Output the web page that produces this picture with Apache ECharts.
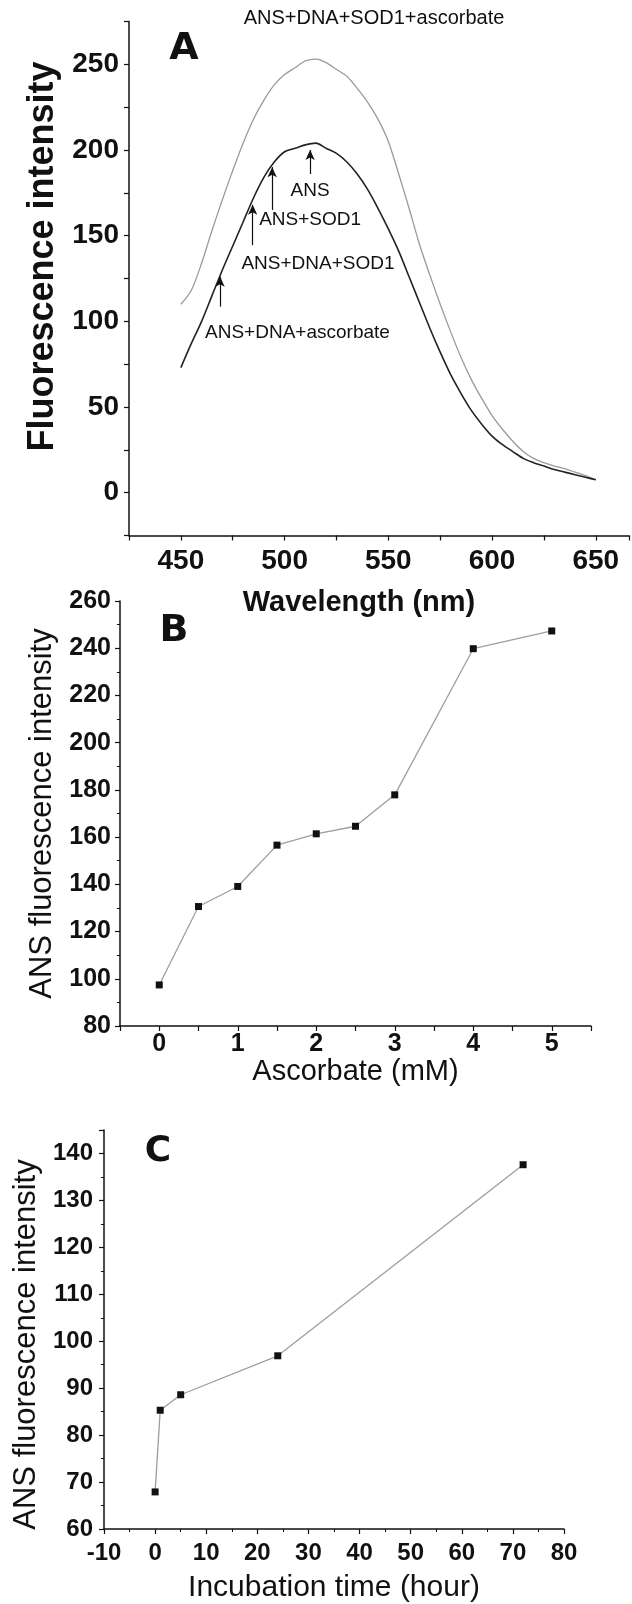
<!DOCTYPE html>
<html>
<head>
<meta charset="utf-8">
<script src="https://cdn.jsdelivr.net/npm/echarts@6/dist/echarts.min.js"></script>
<style>
  html, body { margin: 0; padding: 0; background: #fff; }
  #main { width: 632px; height: 1604px; }
</style>
</head>
<body>
<div id="main"></div>
<script>
// panel A: emission spectra (every 5 nm)
var wavelengths = [450, 455, 460, 465, 470, 475, 480, 485, 490, 495, 500, 505, 510, 515, 520, 525, 530, 535, 540, 545,
    550, 555, 560, 565, 570, 575, 580, 585, 590, 595, 600, 605, 610, 615, 620, 625, 630, 635, 640, 645, 650]
var withAscorbate = [110, 118, 134, 153, 171, 188, 204, 218, 229, 238, 244, 248, 252, 253, 251, 247, 243, 236, 228, 218,
    205, 186, 166, 145, 127, 110, 94, 79, 66, 55, 45, 37, 30, 24, 20, 17.5, 15.5, 14, 12, 10, 7.5]
var controls = [73, 87, 100, 115, 130, 144, 158, 172, 184, 193, 199, 201, 203, 204, 201, 198, 193, 186, 177, 166,
    154, 141, 126, 111, 96, 82, 69, 58, 48, 40, 33, 28, 24, 20, 17.5, 15.5, 13.5, 12, 10.5, 9, 7.5]

// arrows + labels on panel A (data coordinates)
var arrowNames = ['ANS', 'ANS+SOD1', 'ANS+DNA+SOD1', 'ANS+DNA+ascorbate']
var arrowX = [512.3, 494, 484.6, 468.9]
var arrowFrom = [186, 165, 144.5, 108.6]
var arrowTo = [200, 190, 168, 126]
var nameX = [512.3, 512.3, 516.1, 506.2]
var nameY = [176, 159.3, 133.7, 93.1]
var topName = 'ANS+DNA+SOD1+ascorbate'

// panel B
var ascorbate = [0, 0.5, 1, 1.5, 2, 2.5, 3, 4, 5]
var ascorbateIntensity = [97.4, 130.6, 139.1, 156.6, 161.4, 164.6, 177.9, 239.8, 247.3]

// panel C
var hours = [0, 1, 5, 24, 72]
var hoursIntensity = [67.9, 85.3, 88.6, 96.9, 137.6]

var font = 'Liberation Sans, Arial, sans-serif'

function zip(xs, ys) {
    var out = []
    for (var i = 0; i < xs.length; i++) out.push([xs[i], ys[i]])
    return out
}

function baseAxis(extra) {
    var ax = {
        type: 'value',
        nameLocation: 'middle',
        axisLine: { show: true, onZero: false, lineStyle: { color: '#111', width: 1.5 } },
        axisTick: { show: true, inside: false, length: 5, lineStyle: { color: '#111', width: 1.2 } },
        minorTick: { show: true, splitNumber: 2, length: 3, lineStyle: { color: '#111', width: 1 } },
        splitLine: { show: false },
        axisLabel: { color: '#111', fontFamily: font, fontWeight: 'bold' },
        nameTextStyle: { color: '#111', fontFamily: font }
    }
    for (var k in extra) ax[k] = extra[k]
    return ax
}

var arrowLines = []
var arrowText = []
for (var i = 0; i < arrowNames.length; i++) {
    arrowLines.push([{ coord: [arrowX[i], arrowFrom[i]] }, { coord: [arrowX[i], arrowTo[i]] }])
    arrowText.push({ coord: [nameX[i], nameY[i]], value: arrowNames[i] })
}

var chart = echarts.init(document.getElementById('main'))

var option = {
    backgroundColor: '#fff',
    animation: false,
    grid: [
        { left: 129, top: 21.5, right: 0, height: 514 },
        { left: 120, top: 601, width: 471, height: 425 },
        { left: 104, top: 1130, width: 460, height: 401 }
    ],
    xAxis: [
        baseAxis({
            gridIndex: 0, min: 425, max: 666, interval: 25,
            minorTick: { show: false },
            axisLabel: { color: '#111', fontFamily: font, fontWeight: 'bold', fontSize: 28, margin: 12,
                formatter: function (v) { return v % 50 === 0 ? v : '' } },
            name: 'Wavelength (nm)', nameGap: 53,
            nameTextStyle: { color: '#111', fontFamily: font, fontWeight: 'bold', fontSize: 29, padding: [0, 40, 0, 0] }
        }),
        baseAxis({
            gridIndex: 1, min: -0.5, max: 5.5, interval: 0.5,
            minorTick: { show: false },
            axisLabel: { color: '#111', fontFamily: font, fontWeight: 'bold', fontSize: 25, margin: 6,
                formatter: function (v) { return Math.abs(v % 1) < 1e-9 ? v : '' } },
            name: 'Ascorbate (mM)', nameGap: 31,
            nameTextStyle: { color: '#111', fontFamily: font, fontSize: 29 }
        }),
        baseAxis({
            gridIndex: 2, min: -10, max: 80, interval: 10,
            axisLabel: { color: '#111', fontFamily: font, fontWeight: 'bold', fontSize: 24, margin: 12 },
            name: 'Incubation time (hour)', nameGap: 44,
            nameTextStyle: { color: '#111', fontFamily: font, fontSize: 30 }
        })
    ],
    yAxis: [
        baseAxis({
            gridIndex: 0, min: -25, max: 275, interval: 25,
            minorTick: { show: false },
            axisLabel: { color: '#111', fontFamily: font, fontWeight: 'bold', fontSize: 28, margin: 10,
                formatter: function (v) { return v % 50 === 0 ? v : '' } },
            name: 'Fluorescence intensity', nameGap: 68,
            nameTextStyle: { color: '#111', fontFamily: font, fontWeight: 'bold', fontSize: 36, padding: [0, 0, 0, 44] }
        }),
        baseAxis({
            gridIndex: 1, min: 80, max: 260, interval: 20,
            axisLabel: { color: '#111', fontFamily: font, fontWeight: 'bold', fontSize: 25, margin: 9 },
            name: 'ANS fluorescence intensity', nameGap: 62,
            nameTextStyle: { color: '#111', fontFamily: font, fontSize: 31 }
        }),
        baseAxis({
            gridIndex: 2, min: 60, max: 145, interval: 10,
            axisLabel: { color: '#111', fontFamily: font, fontWeight: 'bold', fontSize: 24, margin: 11,
                formatter: function (v) { return v > 140 ? '' : v } },
            name: 'ANS fluorescence intensity', nameGap: 62,
            nameTextStyle: { color: '#111', fontFamily: font, fontSize: 31, padding: [0, 30, 0, 0] }
        })
    ],
    series: [
        {
            name: topName, type: 'line', xAxisIndex: 0, yAxisIndex: 0,
            data: zip(wavelengths, withAscorbate), showSymbol: false, smooth: 0.3,
            lineStyle: { color: '#9a9a9a', width: 1.3 }
        },
        {
            name: 'controls', type: 'line', xAxisIndex: 0, yAxisIndex: 0,
            data: zip(wavelengths, controls), showSymbol: false, smooth: 0.3,
            lineStyle: { color: '#222', width: 1.6 },
            markLine: {
                silent: true, symbol: ['none', 'arrow'], symbolSize: [7, 10],
                lineStyle: { color: '#111', width: 1.2, type: 'solid' },
                label: { show: false },
                data: arrowLines
            },
            markPoint: {
                symbol: 'circle', symbolSize: 1, itemStyle: { color: 'rgba(0,0,0,0)' },
                label: { show: true, position: 'inside', color: '#111', fontFamily: font, fontSize: 19,
                    formatter: function (p) { return p.data.value } },
                data: arrowText
            }
        },
        {
            name: 'ascorbate', type: 'line', xAxisIndex: 1, yAxisIndex: 1,
            data: zip(ascorbate, ascorbateIntensity),
            symbol: 'rect', symbolSize: [7, 7], itemStyle: { color: '#111' },
            lineStyle: { color: '#9e9e9e', width: 1.3 }
        },
        {
            name: 'time', type: 'line', xAxisIndex: 2, yAxisIndex: 2,
            data: zip(hours, hoursIntensity),
            symbol: 'rect', symbolSize: [7, 7], itemStyle: { color: '#111' },
            lineStyle: { color: '#9e9e9e', width: 1.3 }
        }
    ],
    graphic: [
        { type: 'text', x: 374, y: 18.5, style: { text: topName, fontFamily: font, fontSize: 20, fill: '#111', align: 'center', verticalAlign: 'middle' } },
        { type: 'text', x: 184, y: 49, style: { text: 'A', fontFamily: 'DejaVu Sans', fontWeight: 'bold', fontSize: 38, fill: '#111', align: 'center', verticalAlign: 'middle' } },
        { type: 'text', x: 174, y: 631, style: { text: 'B', fontFamily: 'DejaVu Sans', fontWeight: 'bold', fontSize: 38, fill: '#111', align: 'center', verticalAlign: 'middle' } },
        { type: 'text', x: 158, y: 1152, style: { text: 'C', fontFamily: 'DejaVu Sans', fontWeight: 'bold', fontSize: 36, fill: '#111', align: 'center', verticalAlign: 'middle' } }
    ]
}

chart.setOption(option)
</script>
</body>
</html>
